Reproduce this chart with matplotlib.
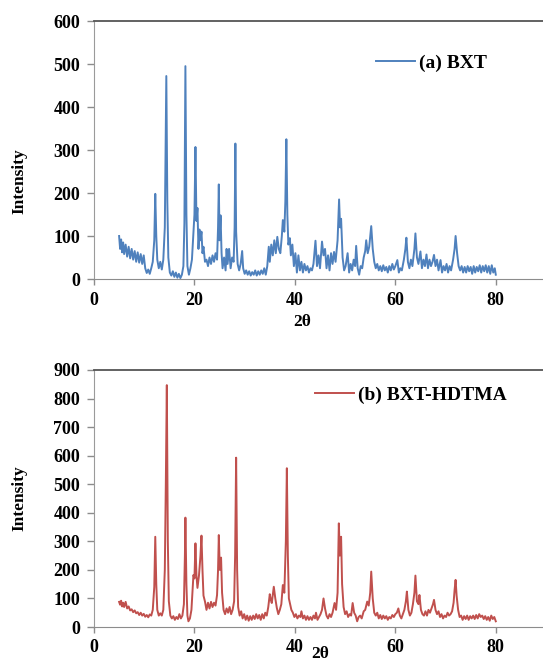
import numpy as np
import matplotlib.pyplot as plt

# XRD pattern of the raw bentonite (BXT)
two_theta_a = [
    5.0, 5.2, 5.4, 5.6, 5.8, 6.0, 6.3, 6.6, 6.9, 7.2, 7.5, 7.8, 8.1, 8.4, 8.7, 9.0, 9.3, 9.6, 9.9,
    10.2, 10.5, 10.8, 11.1, 11.4, 11.7, 12.0, 12.2, 12.4, 12.6, 12.9, 13.2, 13.5, 13.8, 14.1, 14.4,
    14.6, 14.8, 15.1, 15.4, 15.7, 16.0, 16.3, 16.6, 16.9, 17.2, 17.5, 17.8, 18.0, 18.2, 18.4, 18.6,
    18.9, 19.2, 19.5, 19.8, 20.0, 20.2, 20.4, 20.6, 20.8, 21.0, 21.2, 21.4, 21.6, 21.8, 22.1, 22.4,
    22.7, 23.0, 23.3, 23.6, 23.9, 24.2, 24.5, 24.7, 24.85, 25.0, 25.2, 25.4, 25.6, 25.9, 26.2, 26.4,
    26.6, 26.9, 27.2, 27.5, 27.8, 28.0, 28.15, 28.3, 28.6, 28.9, 29.2, 29.5, 29.7, 30.0, 30.3, 30.6,
    30.9, 31.2, 31.5, 31.8, 32.1, 32.4, 32.7, 33.0, 33.3, 33.6, 33.9, 34.2, 34.5, 34.8, 35.0, 35.3,
    35.6, 35.9, 36.2, 36.5, 36.8, 37.1, 37.4, 37.6, 37.9, 38.1, 38.3, 38.5, 38.7, 39.0, 39.2, 39.5,
    39.8, 40.1, 40.4, 40.7, 41.0, 41.3, 41.6, 41.9, 42.2, 42.5, 42.8, 43.1, 43.4, 43.7, 44.1, 44.4,
    44.7, 45.0, 45.4, 45.7, 46.0, 46.3, 46.6, 46.9, 47.2, 47.5, 47.8, 48.1, 48.5, 48.8, 49.0, 49.2,
    49.5, 49.8, 50.1, 50.5, 50.8, 51.1, 51.4, 51.7, 52.0, 52.2, 52.5, 52.8, 53.1, 53.4, 53.7, 54.0,
    54.2, 54.5, 54.8, 55.2, 55.5, 55.8, 56.1, 56.4, 56.7, 57.0, 57.3, 57.6, 57.9, 58.2, 58.5, 58.8,
    59.1, 59.4, 59.7, 60.0, 60.4, 60.7, 61.0, 61.3, 61.7, 62.0, 62.2, 62.5, 62.8, 63.1, 63.4, 63.8,
    64.0, 64.3, 64.6, 65.0, 65.3, 65.6, 65.9, 66.2, 66.5, 66.8, 67.1, 67.4, 67.7, 68.0, 68.3, 68.6,
    69.0, 69.3, 69.6, 69.9, 70.2, 70.5, 70.8, 71.1, 71.5, 71.8, 72.0, 72.3, 72.6, 72.9, 73.2, 73.5,
    73.8, 74.1, 74.4, 74.7, 75.0, 75.3, 75.6, 75.9, 76.2, 76.5, 76.8, 77.1, 77.4, 77.7, 78.0, 78.3,
    78.6, 78.9, 79.2, 79.5, 79.8, 80.0,
]
intensity_a = [
    100, 70, 92, 62, 85, 58, 80, 52, 75, 48, 70, 45, 65, 40, 62, 38, 58, 35, 55,
    25, 14, 22, 12, 25, 40, 90, 198, 100, 45, 25, 40, 22, 45, 120, 472,
    180, 50, 15, 8, 18, 5, 15, 3, 12, 2, 10, 30, 130, 495, 150, 30,
    10, 25, 45, 110, 150, 307, 135, 165, 70, 115, 90, 110, 60, 75, 40, 45,
    30, 50, 35, 55, 40, 60, 45, 120, 220, 90, 148, 60, 25, 50, 20, 70,
    35, 70, 25, 50, 40, 120, 315, 110, 35, 20, 35, 65, 25, 12, 20, 10,
    18, 8, 16, 10, 20, 8, 18, 10, 20, 12, 25, 10, 30, 75, 40, 80,
    55, 90, 60, 98, 70, 60, 100, 137, 110, 180, 325, 150, 80, 95, 55, 80,
    30, 60, 15, 55, 20, 40, 15, 35, 20, 30, 15, 25, 20, 35, 89, 30,
    55, 25, 87, 55, 70, 25, 55, 20, 60, 35, 63, 40, 90, 185, 120, 140,
    50, 20, 30, 60, 15, 35, 20, 45, 30, 77, 25, 10, 30, 25, 50, 65,
    90, 60, 75, 123, 70, 40, 25, 35, 20, 30, 18, 32, 20, 28, 15, 30,
    20, 35, 22, 30, 44, 15, 25, 20, 45, 70, 96, 40, 25, 45, 30, 70,
    106, 50, 35, 64, 25, 45, 30, 57, 25, 45, 30, 40, 56, 30, 45, 20,
    44, 15, 30, 20, 35, 15, 30, 20, 45, 70, 100, 60, 30, 20, 30, 15,
    28, 15, 30, 18, 28, 12, 30, 15, 28, 18, 32, 15, 30, 18, 32, 15,
    30, 12, 32, 15, 25, 10,
]

# XRD pattern after HDTMA modification (BXT-HDTMA)
two_theta_b = [
    5.0, 5.2, 5.4, 5.6, 5.8, 6.0, 6.3, 6.6, 6.9, 7.2, 7.5, 7.8, 8.1, 8.4, 8.7, 9.0, 9.3, 9.6, 9.9,
    10.2, 10.5, 10.8, 11.1, 11.4, 11.7, 12.0, 12.2, 12.4, 12.6, 12.9, 13.2, 13.5, 13.8, 14.1, 14.3,
    14.5, 14.7, 14.9, 15.2, 15.5, 15.8, 16.1, 16.4, 16.7, 17.0, 17.3, 17.6, 17.9, 18.1, 18.2, 18.4,
    18.6, 18.8, 19.1, 19.4, 19.8, 20.0, 20.2, 20.4, 20.6, 20.9, 21.2, 21.4, 21.6, 21.8, 22.1, 22.4,
    22.7, 23.0, 23.3, 23.6, 23.9, 24.2, 24.5, 24.7, 24.85, 25.05, 25.3, 25.5, 25.8, 26.1, 26.4, 26.7,
    27.0, 27.3, 27.6, 27.9, 28.1, 28.3, 28.5, 28.7, 29.0, 29.3, 29.6, 29.9, 30.2, 30.5, 30.8, 31.1,
    31.4, 31.7, 32.0, 32.3, 32.6, 32.9, 33.2, 33.5, 33.8, 34.1, 34.4, 34.7, 35.0, 35.2, 35.4, 35.8,
    36.1, 36.4, 36.7, 37.0, 37.3, 37.6, 37.9, 38.2, 38.4, 38.6, 38.8, 39.0, 39.3, 39.6, 39.9, 40.2,
    40.5, 40.8, 41.1, 41.3, 41.6, 41.9, 42.2, 42.5, 42.8, 43.1, 43.4, 43.7, 44.0, 44.2, 44.5, 44.8,
    45.1, 45.4, 45.7, 46.0, 46.3, 46.6, 46.9, 47.2, 47.5, 47.9, 48.2, 48.5, 48.75, 48.95, 49.2, 49.4,
    49.7, 50.0, 50.3, 50.6, 50.9, 51.2, 51.5, 51.8, 52.1, 52.4, 52.7, 53.0, 53.3, 53.7, 54.0, 54.4,
    54.7, 55.0, 55.2, 55.5, 55.8, 56.1, 56.4, 56.7, 57.0, 57.3, 57.6, 57.9, 58.2, 58.5, 58.8, 59.1,
    59.4, 59.7, 60.0, 60.3, 60.6, 60.9, 61.2, 61.5, 61.8, 62.1, 62.3, 62.6, 62.9, 63.2, 63.5, 63.8,
    64.0, 64.3, 64.6, 64.8, 65.1, 65.4, 65.7, 66.0, 66.3, 66.6, 66.9, 67.2, 67.5, 67.7, 68.0, 68.3,
    68.6, 68.9, 69.2, 69.5, 69.8, 70.1, 70.4, 70.7, 71.0, 71.3, 71.6, 71.8, 72.0, 72.2, 72.5, 72.8,
    73.1, 73.4, 73.7, 74.0, 74.3, 74.6, 74.9, 75.2, 75.5, 75.8, 76.1, 76.4, 76.7, 77.0, 77.3, 77.6,
    77.9, 78.2, 78.5, 78.8, 79.1, 79.4, 79.7, 80.0,
]
intensity_b = [
    88, 78, 92, 72, 85, 70, 88, 65, 72, 58, 62, 52, 58, 48, 52, 42, 50, 40, 46,
    36, 42, 34, 44, 40, 60, 140, 316, 150, 60, 40, 48, 40, 60, 200, 500,
    847, 300, 90, 40, 30, 38, 25, 35, 28, 45, 30, 40, 80, 250, 383, 150,
    40, 20, 30, 60, 182, 170, 293, 180, 137, 180, 250, 320, 200, 110, 89, 60,
    85, 65, 88, 70, 85, 75, 112, 200, 322, 200, 243, 120, 60, 45, 65, 50,
    70, 45, 60, 90, 250, 593, 200, 70, 40, 55, 30, 45, 25, 40, 22, 38,
    25, 40, 28, 45, 30, 42, 25, 45, 30, 50, 40, 70, 115, 95, 84, 141,
    100, 67, 45, 60, 80, 147, 120, 300, 556, 250, 100, 84, 60, 50, 35, 45,
    30, 40, 35, 55, 30, 40, 25, 38, 25, 35, 25, 40, 30, 50, 25, 35,
    45, 60, 100, 65, 40, 30, 45, 35, 50, 84, 60, 120, 363, 250, 316, 150,
    70, 45, 55, 35, 45, 40, 84, 50, 40, 20, 35, 40, 30, 55, 60, 89,
    75, 120, 194, 100, 50, 40, 50, 30, 42, 28, 40, 30, 38, 25, 35, 30,
    42, 35, 45, 50, 65, 40, 30, 45, 60, 90, 124, 60, 40, 50, 80, 120,
    180, 90, 80, 112, 60, 45, 40, 55, 40, 60, 50, 65, 80, 95, 60, 45,
    55, 35, 45, 30, 40, 35, 50, 40, 45, 55, 85, 130, 165, 110, 60, 35,
    40, 25, 38, 28, 40, 25, 38, 30, 40, 28, 42, 30, 45, 35, 40, 28,
    38, 25, 35, 22, 40, 28, 35, 20,
]

x_ticks = [0, 20, 40, 60, 80]
y_ticks_a = [0, 100, 200, 300, 400, 500, 600]
y_ticks_b = [0, 100, 200, 300, 400, 500, 600, 700, 800, 900]

plt.rcParams["font.family"] = ["Liberation Serif", "DejaVu Serif"]
plt.rcParams["font.weight"] = "bold"

W, H = 543, 663
fig = plt.figure(figsize=(W / 100, H / 100), dpi=100)


def style_axes(ax, yticks, ymax):
    ax.set_xlim(0, 90)
    ax.set_ylim(0, ymax)
    ax.set_xticks(x_ticks)
    ax.set_yticks(yticks)
    for lab in ax.get_xticklabels() + ax.get_yticklabels():
        lab.set_fontweight("bold")
    ax.tick_params(axis="x", direction="out", length=4, width=1, color="#8c8c8c",
                   labelsize=13, pad=5)
    ax.tick_params(axis="y", direction="out", length=5, width=1, color="#8c8c8c",
                   labelsize=13, pad=5)
    ax.spines["left"].set_color("#9a9a9a")
    ax.spines["bottom"].set_color("#8c8c8c")
    ax.spines["top"].set_color("#555555")
    ax.spines["right"].set_color("#555555")
    ax.spines["top"].set_linewidth(1.3)
    ax.set_ylabel("Intensity", fontsize=12.5, fontweight="bold")
    ax.set_xlabel("2θ", fontsize=12.5, fontweight="bold")


ax1 = fig.add_axes([94 / W, 1 - 279 / H, 452 / W, 258 / H])
ax1.plot(two_theta_a, intensity_a, color="#4f81bd", lw=1.4, label="(a) BXT")
style_axes(ax1, y_ticks_a, 600)
ax1.xaxis.set_label_coords(0.46, -0.135)
ax1.yaxis.set_label_coords(-0.148, 0.38)
ax1.legend(loc="center left", bbox_to_anchor=(0.624, 0.837), frameon=False,
           borderpad=0, borderaxespad=0, handlelength=2.0, handletextpad=0.2,
           prop={"size": 14, "weight": "bold"})

ax2 = fig.add_axes([94 / W, 1 - 627 / H, 452 / W, 257 / H])
ax2.plot(two_theta_b, intensity_b, color="#c0504d", lw=1.4, label="(b) BXT-HDTMA")
style_axes(ax2, y_ticks_b, 900)
ax2.xaxis.set_label_coords(0.5, -0.072)
ax2.yaxis.set_label_coords(-0.148, 0.5)
ax2.legend(loc="center left", bbox_to_anchor=(0.489, 0.903), frameon=False,
           borderpad=0, borderaxespad=0, handlelength=2.0, handletextpad=0.2,
           prop={"size": 14, "weight": "bold"})

fig.savefig("out.png", dpi=100)
